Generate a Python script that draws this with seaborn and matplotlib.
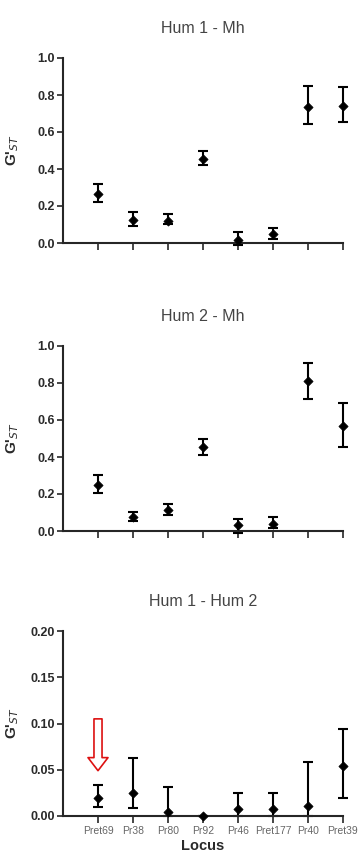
import numpy as np
import pandas as pd
import matplotlib
matplotlib.use("Agg")
import matplotlib.pyplot as plt
import seaborn as sns

# loci on the x axis
loci = ["Pret69", "Pr38", "Pr80", "Pr92", "Pr46", "Pret177", "Pr40", "Pret39"]

# G'ST estimates with lower / upper bounds of the error bars
hum1_mh = [0.264, 0.125, 0.121, 0.455, 0.016, 0.047, 0.736, 0.742]
hum1_mh_lo = [0.220, 0.092, 0.103, 0.419, -0.010, 0.022, 0.641, 0.653]
hum1_mh_hi = [0.318, 0.168, 0.155, 0.498, 0.058, 0.081, 0.850, 0.843]

hum2_mh = [0.251, 0.074, 0.114, 0.453, 0.032, 0.040, 0.810, 0.567]
hum2_mh_lo = [0.206, 0.056, 0.088, 0.413, -0.010, 0.014, 0.711, 0.453]
hum2_mh_hi = [0.301, 0.103, 0.148, 0.495, 0.063, 0.078, 0.910, 0.693]

hum1_hum2 = [0.0195, 0.0252, 0.0047, 0.0000, 0.0076, 0.0076, 0.0105, 0.0537]
hum1_hum2_lo = [0.0101, 0.0086, 0.0000, 0.0000, 0.0000, 0.0000, 0.0000, 0.0198]
hum1_hum2_hi = [0.0339, 0.0627, 0.0317, 0.0000, 0.0249, 0.0249, 0.0584, 0.0940]

titles = ["Hum 1 - Mh", "Hum 2 - Mh", "Hum 1 - Hum 2"]
y_ticks = [[0.0, 0.2, 0.4, 0.6, 0.8, 1.0],
           [0.0, 0.2, 0.4, 0.6, 0.8, 1.0],
           [0.00, 0.05, 0.10, 0.15, 0.20]]
y_fmt = ["{:.1f}", "{:.1f}", "{:.2f}"]

sns.set_style("ticks")
plt.rcParams["font.family"] = ["Liberation Sans", "DejaVu Sans"]

W, H = 360, 857
fig = plt.figure(figsize=(W / 100, H / 100), dpi=100)

panels = [(hum1_mh, hum1_mh_lo, hum1_mh_hi, 243),
          (hum2_mh, hum2_mh_lo, hum2_mh_hi, 531),
          (hum1_hum2, hum1_hum2_lo, hum1_hum2_hi, 816)]

for i, (vals, lo, hi, bottom_px) in enumerate(panels):
    ax = fig.add_axes([63 / W, 1 - bottom_px / H, 280 / W, 185 / H])
    df = pd.DataFrame({"pos": np.arange(1, 9), "locus": loci, "gst": vals,
                       "lo": lo, "hi": hi})
    ax.errorbar(df["pos"], df["gst"],
                yerr=[df["gst"] - df["lo"], df["hi"] - df["gst"]],
                fmt="none", ecolor="black", elinewidth=1.5, capsize=3.5,
                capthick=1.5, clip_on=False)
    sns.scatterplot(data=df, x="pos", y="gst", ax=ax, color="black",
                    marker="D", s=22, edgecolor="black", linewidth=0.5,
                    clip_on=False, zorder=3)
    ax.set_xlim(0, 8)
    ax.set_ylim(y_ticks[i][0], y_ticks[i][-1])
    ax.set_yticks(y_ticks[i])
    ax.set_yticklabels([y_fmt[i].format(t) for t in y_ticks[i]],
                       fontsize=9, fontweight="bold", color="#2a2a2a")
    ax.set_xticks(np.arange(1, 9))
    if i == 2:
        ax.set_xticklabels(loci, fontsize=7.5, color="#666666")
        ax.set_xlabel("Locus", fontsize=10.5, fontweight="bold",
                      color="#2a2a2a", labelpad=2)
    else:
        ax.set_xticklabels([])
        ax.set_xlabel("")
    ax.set_ylabel("G'$_{ST}$", fontsize=11, fontweight="bold", color="#2a2a2a")
    ax.yaxis.set_label_coords(-0.15, 0.5)
    ax.set_title(titles[i], fontsize=11.5, color="#444444", pad=18)
    ax.tick_params(axis="both", direction="out", length=4, width=1.2, pad=2)
    ax.tick_params(axis="x", length=5)
    for side in ["left", "bottom"]:
        ax.spines[side].set_linewidth(1.5)
    sns.despine(ax=ax)

    if i == 2:
        ax.annotate("", xy=(1, 0.049), xytext=(1, 0.105),
                    arrowprops=dict(arrowstyle="simple,head_length=0.47,head_width=0.72,tail_width=0.29",
                                    fc="white", ec="#dd1111", lw=1.2,
                                    mutation_scale=20, shrinkA=0, shrinkB=0))

fig.savefig("out.png", dpi=100)
